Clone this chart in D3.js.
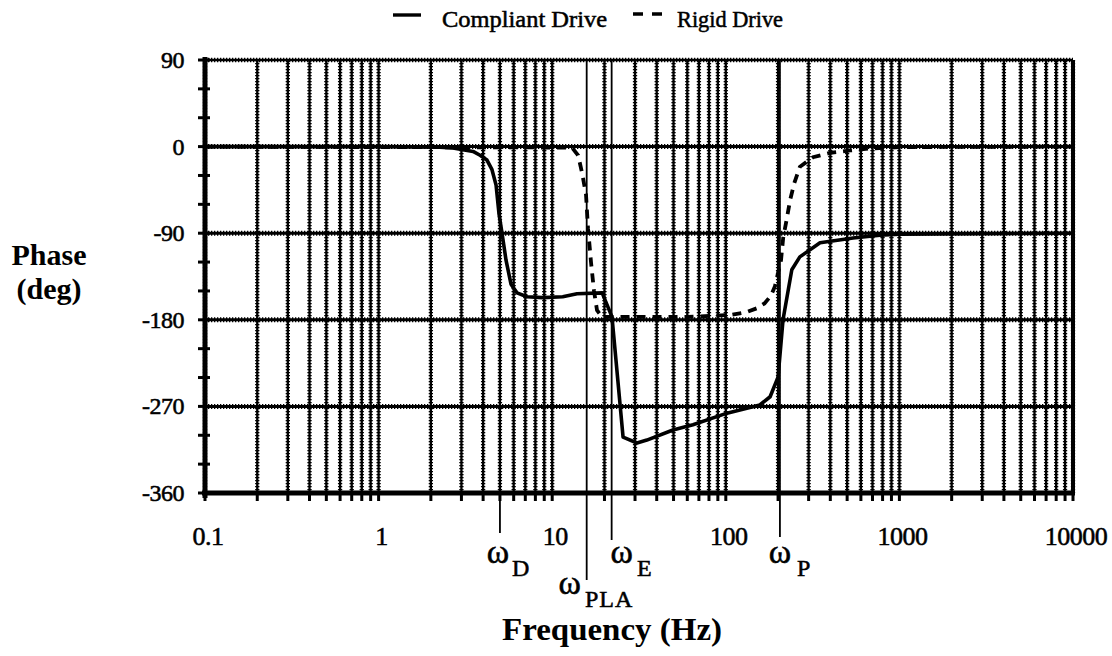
<!DOCTYPE html>
<html>
<head>
<meta charset="utf-8">
<script src="https://cdn.jsdelivr.net/npm/d3@7/dist/d3.min.js"></script>
<style>
  html, body { margin: 0; padding: 0; background: #fff; }
  svg { display: block; }
  text { font-family: "Liberation Serif", "Times New Roman", serif; fill: #000; }
  text.ink { stroke: #000; stroke-width: 0.55px; }
</style>
</head>
<body>
<svg id="chart" width="1112" height="656"></svg>
<script>
// Phase response of the two drive models (frequency in Hz, phase in degrees)
const compliantFreq = [0.1, 1, 2.26, 2.68, 3.5, 3.84, 4.21, 4.5, 4.75, 4.94, 5.14, 5.42, 5.79, 6.27, 7.16, 8.85, 11.5, 13.9, 19.4, 22.1, 25.6, 30.8, 35.1, 49.6, 64.7, 101.6, 157, 180, 200, 213.6, 240, 267, 349, 541, 773, 1000, 10000];
const compliantPhase = [0, 0, -0.5, -1.5, -5, -9, -14, -24, -40, -70, -90, -118, -143, -152, -156, -157, -156, -153, -152, -177, -302, -308, -305, -294.5, -289, -277, -268.5, -260, -239.5, -180, -128, -114.6, -100, -95, -92, -91, -90];

const rigidFreq = [0.1, 13.0, 14.1, 14.85, 15.66, 16.08, 16.73, 17.41, 18.12, 19.36, 60, 105.7, 132, 151, 167, 182, 192, 208, 214, 223, 235, 248, 267, 318, 398, 521, 677, 1000, 10000];
const rigidPhase = [0, -1, -9, -27, -50, -85, -120, -150, -170, -177, -177, -175, -172, -168, -163, -155, -145, -118, -95, -78, -55, -38, -21, -11, -6.6, -4, -2, -0.5, 0];

const seriesNames = ["Compliant Drive", "Rigid Drive"];

// Characteristic frequencies marked under the axis
const markerNames = ["D", "PLA", "E", "P"];
const markerFreq = [5.0, 15.8, 22.0, 205];

const xTickValues = [0.1, 1, 10, 100, 1000, 10000];
const xTickLabels = ["0.1", "1", "10", "100", "1000", "10000"];
const yTickValues = [90, 0, -90, -180, -270, -360];
const yTickLabels = ["90", "0", "-90", "-180", "-270", "-360"];

const svg = d3.select("#chart");
const plot = { left: 205, right: 1073, top: 60, bottom: 493 };

const x = d3.scaleLog().domain([0.1, 10000]).range([plot.left, plot.right]);
const y = d3.scaleLinear().domain([-360, 90]).range([plot.bottom, plot.top]);

svg.append("rect").attr("width", 1112).attr("height", 656).attr("fill", "#fff");

// Minor + major log grid frequencies
const gridFreqs = [];
for (let e = -1; e < 4; e++) {
  for (let m = 1; m < 10; m++) gridFreqs.push(m * Math.pow(10, e));
}
gridFreqs.push(10000);

// grid lines: a solid core with a beaded edge
const grid = svg.append("g");
function gridLine(x1, y1, x2, y2, w) {
  grid.append("line").attr("x1", x1).attr("y1", y1).attr("x2", x2).attr("y2", y2)
    .attr("stroke", "#000").attr("stroke-width", w);
  grid.append("line").attr("x1", x1).attr("y1", y1).attr("x2", x2).attr("y2", y2)
    .attr("stroke", "#000").attr("stroke-width", w + 2).attr("stroke-dasharray", "1.3,1.7");
}
gridFreqs.forEach(f => gridLine(x(f), plot.top, x(f), plot.bottom, 2.3));
[90, 0, -90, -180, -270].forEach(v => gridLine(plot.left, y(v), plot.right, y(v), v === 90 ? 2.3 : 3));

// right border
svg.append("line").attr("x1", plot.right).attr("x2", plot.right)
  .attr("y1", plot.top).attr("y2", plot.bottom).attr("stroke", "#000").attr("stroke-width", 4);

// x ticks below axis
svg.append("g").selectAll("line").data(gridFreqs).join("line")
  .attr("x1", d => x(d)).attr("x2", d => x(d))
  .attr("y1", plot.bottom).attr("y2", plot.bottom + 8)
  .attr("stroke", "#000").attr("stroke-width", 3);

// y ticks every 30 degrees
svg.append("g").selectAll("line").data(d3.range(-360, 91, 30)).join("line")
  .attr("x1", plot.left - 7).attr("x2", plot.left + 5)
  .attr("y1", d => y(d)).attr("y2", d => y(d))
  .attr("stroke", "#000").attr("stroke-width", 3);

// axis lines
svg.append("line").attr("x1", plot.left).attr("x2", plot.left)
  .attr("y1", plot.top - 3).attr("y2", plot.bottom + 5).attr("stroke", "#000").attr("stroke-width", 5);
svg.append("line").attr("x1", plot.left - 3).attr("x2", plot.right + 2)
  .attr("y1", plot.bottom).attr("y2", plot.bottom).attr("stroke", "#000").attr("stroke-width", 5);

// tick labels
svg.append("g").selectAll("text").data(xTickValues).join("text")
  .attr("class", "ink")
  .attr("x", d => x(d) + 3).attr("y", 545)
  .attr("text-anchor", "middle").attr("font-size", 26).attr("letter-spacing", -0.5)
  .text((d, i) => xTickLabels[i]);

svg.append("g").selectAll("text").data(yTickValues).join("text")
  .attr("class", "ink")
  .attr("x", 184).attr("y", d => y(d) + 8)
  .attr("text-anchor", "end").attr("font-size", 24).attr("letter-spacing", -0.5)
  .text((d, i) => yTickLabels[i]);

// characteristic-frequency markers
const markerLayout = [
  { end: 533, wDx: -2, wY: 563, sX: 512, sY: 576 },
  { end: 580, wDx: -17, wY: 594, sX: 585, sY: 607 },
  { end: 540, wDx: 10, wY: 563, sX: 637, sY: 576 },
  { end: 537, wDx: 0, wY: 563, sX: 797, sY: 576 }
];
const mk = svg.append("g");
markerFreq.forEach((f, i) => {
  const L = markerLayout[i];
  const mx = x(f);
  mk.append("line").attr("x1", mx).attr("x2", mx).attr("y1", plot.top).attr("y2", L.end)
    .attr("stroke", "#000").attr("stroke-width", 1.8);
  mk.append("text").attr("class", "ink").attr("x", mx + L.wDx).attr("y", L.wY).attr("text-anchor", "middle")
    .attr("font-size", 34).text("ω");
  mk.append("text").attr("class", "ink").attr("x", L.sX).attr("y", L.sY).attr("font-size", 24)
    .attr("letter-spacing", 1).text(markerNames[i]);
});

// data lines
const line = d3.line().x(d => x(d[0])).y(d => y(d[1]));
svg.append("path")
  .datum(compliantFreq.map((f, i) => [f, compliantPhase[i]]))
  .attr("d", line).attr("fill", "none").attr("stroke", "#000")
  .attr("stroke-width", 3.6).attr("stroke-linejoin", "round");
svg.append("path")
  .datum(rigidFreq.map((f, i) => [f, rigidPhase[i]]))
  .attr("d", line).attr("fill", "none").attr("stroke", "#000")
  .attr("stroke-width", 3.8).attr("stroke-dasharray", "9,7");

// axis titles
svg.append("text").attr("x", 49).attr("y", 265).attr("text-anchor", "middle")
  .attr("font-size", 30).attr("font-weight", "bold").text("Phase");
svg.append("text").attr("x", 49).attr("y", 299).attr("text-anchor", "middle")
  .attr("font-size", 30).attr("font-weight", "bold").text("(deg)");
svg.append("text").attr("x", 502).attr("y", 640)
  .attr("font-size", 31).attr("font-weight", "bold")
  .attr("textLength", 220).attr("lengthAdjust", "spacingAndGlyphs").text("Frequency (Hz)");

// legend
const lg = svg.append("g");
lg.append("line").attr("x1", 393).attr("x2", 421).attr("y1", 15).attr("y2", 15)
  .attr("stroke", "#000").attr("stroke-width", 3.4);
lg.append("text").attr("class", "ink").attr("x", 442).attr("y", 27).attr("font-size", 24)
  .attr("textLength", 165).attr("lengthAdjust", "spacingAndGlyphs").text(seriesNames[0]);
lg.append("line").attr("x1", 633).attr("x2", 664).attr("y1", 14).attr("y2", 14)
  .attr("stroke", "#000").attr("stroke-width", 3.4).attr("stroke-dasharray", "10,9");
lg.append("text").attr("class", "ink").attr("x", 677).attr("y", 27).attr("font-size", 24)
  .attr("textLength", 106).attr("lengthAdjust", "spacingAndGlyphs").text(seriesNames[1]);
</script>
</body>
</html>
